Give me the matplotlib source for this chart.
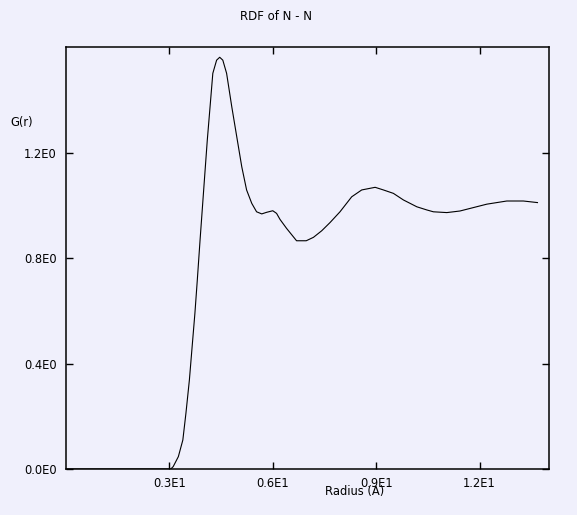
import matplotlib
matplotlib.use("Agg")
import matplotlib.pyplot as plt

radius = [0.0, 2.9, 3.04, 3.11, 3.26, 3.39, 3.48, 3.58, 3.66, 3.74, 3.81, 3.89,
          4.03, 4.10, 4.18, 4.26, 4.37, 4.46, 4.55, 4.66, 4.81, 4.97, 5.10, 5.24,
          5.39, 5.53, 5.68, 5.82, 6.00, 6.11, 6.21, 6.40, 6.69, 6.97, 7.18, 7.42,
          7.66, 7.95, 8.29, 8.58, 8.97, 9.21, 9.50, 9.79, 10.18, 10.47, 10.66,
          11.05, 11.43, 11.82, 12.21, 12.79, 13.27, 13.68]
g_r = [0.0, 0.0, 0.0, 0.009, 0.047, 0.110, 0.212, 0.338, 0.465, 0.591, 0.718, 0.870,
       1.124, 1.250, 1.376, 1.503, 1.553, 1.564, 1.553, 1.503, 1.376, 1.250, 1.148, 1.060,
       1.009, 0.977, 0.969, 0.975, 0.981, 0.971, 0.948, 0.914, 0.867, 0.867, 0.880, 0.905,
       0.936, 0.977, 1.034, 1.060, 1.070, 1.060, 1.047, 1.022, 0.996, 0.984, 0.977,
       0.974, 0.980, 0.993, 1.006, 1.018, 1.018, 1.012]

x_ticks = [3, 6, 9, 12]
x_tick_labels = ["0.3E1", "0.6E1", "0.9E1", "1.2E1"]
y_ticks = [0.0, 0.4, 0.8, 1.2]
y_tick_labels = ["0.0E0", "0.4E0", "0.8E0", "1.2E0"]

W, H = 577, 515
bg = "#f0f0fc"
fig = plt.figure(figsize=(W / 100, H / 100), dpi=100, facecolor=bg)
ax = fig.add_axes([66 / W, 1 - 469 / H, (548.5 - 66) / W, (469 - 47) / H], facecolor=bg)

ax.plot(radius, g_r, color="black", lw=0.8)
ax.set_xlim(0, 14.0)
ax.set_ylim(0, 1.603)
ax.set_xticks(x_ticks)
ax.set_xticklabels(x_tick_labels)
ax.set_yticks(y_ticks)
ax.set_yticklabels(y_tick_labels)
ax.tick_params(direction="in", length=4.8, width=1.0, top=True, right=True,
               labelsize=8.3, colors="black")
ax.tick_params(axis="x", pad=5.5)
ax.tick_params(axis="y", pad=6.5)
for s in ax.spines.values():
    s.set_linewidth(1.1)

fig.text(276 / W, 1 - 16 / H, "RDF of N - N", ha="center", va="center", fontsize=8.5)
fig.text(10 / W, 1 - 123 / H, "G(r)", ha="left", va="center", fontsize=8.3)
fig.text(355 / W, 1 - 491 / H, "Radius (A)", ha="center", va="center", fontsize=8.3)

fig.savefig("out.png", dpi=100, facecolor=bg)
